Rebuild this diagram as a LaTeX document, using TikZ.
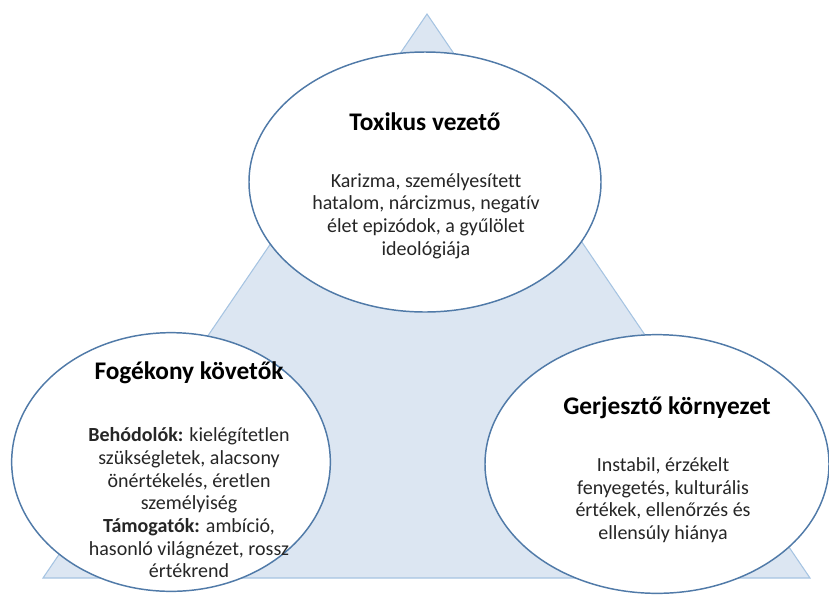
\documentclass[tikz,border=0pt]{standalone}
\usepackage{fontspec}
\setmainfont{Carlito}[Ligatures=NoCommon]
\usetikzlibrary{shapes.geometric,positioning}
\definecolor{trifill}{RGB}{220,230,242}
\definecolor{triline}{RGB}{166,196,226}
\definecolor{ellline}{RGB}{80,122,168}
\tikzset{
  bubble/.style={ellipse, draw=ellline, line width=1.1pt, fill=white, inner sep=0pt},
  title/.style={font=\bfseries\fontsize{19}{23}\selectfont, text=black},
  body/.style={font=\fontsize{15}{17}\selectfont, align=center, text=black!85}
}
\begin{document}
\begin{tikzpicture}[x=0.75pt, y=-0.75pt]
    \useasboundingbox (0,0) rectangle (829,594);
    % Background triangle
    \draw[triline, fill=trifill, line width=0.8pt] (427,14) -- (810,578) -- (43,578) -- cycle;
    % Toxic leader
    \node[bubble, minimum width=264pt, minimum height=195pt] (leader) at (425,182) {};
    \node[title] (leaderT) at (425,122) {Toxikus vezető};
    \node[body] (leaderB) at (426,216) {Karizma, személyesített\\hatalom, nárcizmus, negatív\\élet epizódok, a gyűlölet\\ideológiája};
    % Susceptible followers
    \node[bubble, minimum width=239pt, minimum height=194pt] (follow) at (171,462) {};
    \node[title] (followT) at (189,373) {Fogékony követők};
    \node[body] (followB) at (189,503) {\textbf{Behódolók:} kielégítetlen\\szükségletek, alacsony\\önértékelés, éretlen\\személyiség\\\textbf{Támogatók:} ambíció,\\hasonló világnézet, rossz\\értékrend};
    % Conducive environment
    \node[bubble, minimum width=258pt, minimum height=194pt] (envir) at (657,464) {};
    \node[title] (envirT) at (667,408) {Gerjesztő környezet};
    \node[body] (envirB) at (663,500) {Instabil, érzékelt\\fenyegetés, kulturális\\értékek, ellenőrzés és\\ellensúly hiánya};
\end{tikzpicture}
\end{document}
